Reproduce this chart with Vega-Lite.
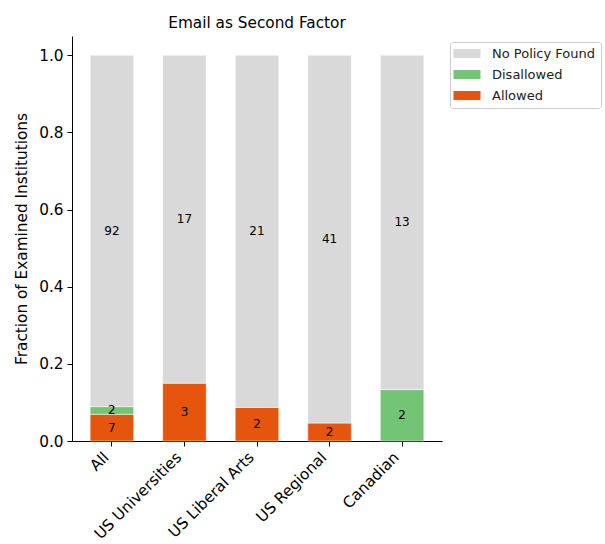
{
  "$schema": "https://vega.github.io/schema/vega-lite/v6.json",
  "autosize": {"type": "none"},
  "padding": {"left": 72, "top": 36, "right": 163, "bottom": 103},
  "width": 370,
  "height": 405,
  "background": "white",
  "config": {
    "font": "DejaVu Sans",
    "view": {"stroke": null},
    "axis": {"domainColor": "black", "tickColor": "black", "labelColor": "black", "titleColor": "black", "grid": false, "titleFontWeight": "normal", "labelFont": "DejaVu Sans", "titleFont": "DejaVu Sans"}
  },
  "title": {"text": "Email as Second Factor", "fontSize": 15.3, "fontWeight": "normal", "font": "DejaVu Sans", "color": "black", "offset": 5, "anchor": "middle"},
  "data": {"values": [
    {"group": "All", "status": "Allowed", "count": 7},
    {"group": "All", "status": "Disallowed", "count": 2},
    {"group": "All", "status": "No Policy Found", "count": 92},
    {"group": "US Universities", "status": "Allowed", "count": 3},
    {"group": "US Universities", "status": "No Policy Found", "count": 17},
    {"group": "US Liberal Arts", "status": "Allowed", "count": 2},
    {"group": "US Liberal Arts", "status": "No Policy Found", "count": 21},
    {"group": "US Regional", "status": "Allowed", "count": 2},
    {"group": "US Regional", "status": "No Policy Found", "count": 41},
    {"group": "Canadian", "status": "Disallowed", "count": 2},
    {"group": "Canadian", "status": "No Policy Found", "count": 13}
  ]},
  "transform": [
    {"stack": "count", "groupby": ["group"], "sort": [{"field": "status", "order": "ascending"}], "offset": "normalize", "as": ["y0", "y1"]}
  ],
  "layer": [
    {
      "mark": {"type": "bar", "stroke": "white", "strokeWidth": 0.5},
      "encoding": {
        "x": {"field": "group", "type": "nominal", "sort": ["All", "US Universities", "US Liberal Arts", "US Regional", "Canadian"],
          "scale": {"paddingInner": 0.4, "paddingOuter": 0.25},
          "axis": {"title": null, "labelAngle": -45, "labelAlign": "right", "labelBaseline": "bottom", "labelFontSize": 15.3, "tickSize": 5, "labelPadding": 14, "domainWidth": 1}},
        "y": {"field": "y0", "type": "quantitative", "scale": {"domain": [0, 1.05], "nice": false},
          "axis": {"title": "Fraction of Examined Institutions", "titleFontSize": 15.3, "labelFontSize": 15.3, "format": ".1f", "values": [0, 0.2, 0.4, 0.6, 0.8, 1.0], "tickSize": 5, "labelPadding": 4, "titlePadding": 9}},
        "y2": {"field": "y1"},
        "color": {"field": "status", "type": "nominal",
          "scale": {"domain": ["No Policy Found", "Disallowed", "Allowed"], "range": ["#d9d9d9", "#74c476", "#e6550d"]},
          "legend": {"title": null, "orient": "none", "legendX": 378, "legendY": 6,
            "symbolType": "M-2.7,-0.9H2.7V0.9H-2.7Z", "symbolSize": 100, "symbolOffset": 5.5, "labelOffset": 18.5,
            "labelFontSize": 13, "labelFont": "DejaVu Sans", "labelColor": "#222", "strokeColor": "#cccccc", "cornerRadius": 3, "padding": 5, "rowPadding": 7, "fillColor": "white", "symbolStrokeWidth": 0}}
      }
    },
    {
      "transform": [
        {"fold": ["y0", "y1"], "as": ["edge", "pos"]},
        {"aggregate": [{"op": "mean", "field": "pos", "as": "mid"}], "groupby": ["group", "status", "count"]}
      ],
      "mark": {"type": "text", "fontSize": 12, "color": "black", "font": "DejaVu Sans"},
      "encoding": {
        "x": {"field": "group", "type": "nominal", "sort": ["All", "US Universities", "US Liberal Arts", "US Regional", "Canadian"]},
        "y": {"field": "mid", "type": "quantitative"},
        "text": {"field": "count", "type": "quantitative"}
      }
    }
  ]
}
